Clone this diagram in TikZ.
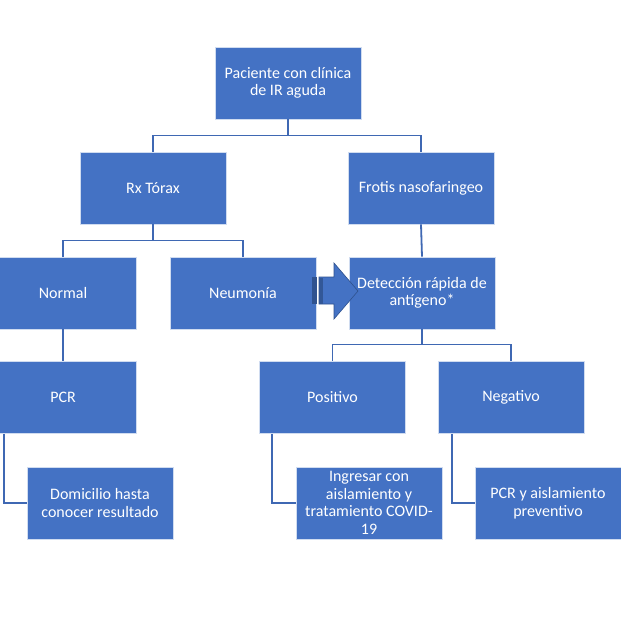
\documentclass[tikz,border=0pt]{standalone}
\usepackage{fontspec}
\setmainfont{Carlito}
\definecolor{boxblue}{HTML}{4472C4}
\definecolor{linkblue}{HTML}{3F68B3}
\definecolor{darkblue}{HTML}{2F528F}
\begin{document}
\begin{tikzpicture}[x=1pt,y=-1pt,
  box/.style={draw=white!75!boxblue, line width=0.8pt, fill=boxblue, text=white,
    minimum width=146pt, minimum height=72pt, inner sep=1pt, align=center,
    font=\fontsize{16}{17.5}\selectfont},
  link/.style={draw=linkblue, line width=1.8pt}]
\useasboundingbox (0,0) rectangle (621,621);
\fill[white] (0,0) rectangle (621,621);

\node[box] (top) at (288,83) {Paciente con clínica\\de IR aguda};
\node[box] (rx) at (153,188) {Rx Tórax};
\node[box] (fro) at (421,188) {Frotis nasofaringeo};
\node[box] (nor) at (63,293) {Normal};
\node[box] (neu) at (243,293) {Neumonía};
\node[box] (det) at (422,293) {Detección rápida de\\antígeno*};
\node[box] (pcr) at (63,397.5) {PCR};
\node[box] (pos) at (332.5,397.5) {Positivo};
\node[box] (neg) at (511,397.5) {Negativo};
\node[box] (dom) at (100,503) {Domicilio hasta\\conocer resultado};
\node[box] (ing) at (369,503) {Ingresar con\\aislamiento y\\tratamiento COVID-\\19};
\node[box] (pcra) at (548,503) {PCR y aislamiento\\preventivo};

% tree connectors
\draw[link] (top.south) -- ++(0,16) -| (rx.north);
\draw[link] (top.south) -- ++(0,16) -| (fro.north);
\draw[link] (rx.south) -- ++(0,16) -| (nor.north);
\draw[link] (rx.south) -- ++(0,16) -| (neu.north);
\draw[link] (fro.south) -- (det.north);
\draw[link] (det.south) -- ++(0,15) -| (pos.north);
\draw[link] (det.south) -- ++(0,15) -| (neg.north);
\draw[link] (nor.south) -- (pcr.north);
\draw[link] ([xshift=14pt]pcr.south west) |- (dom.west);
\draw[link] ([xshift=13pt]pos.south west) |- (ing.west);
\draw[link] ([xshift=14pt]neg.south west) |- (pcra.west);

% striped block arrow
\coordinate (ar) at (312,291);
\fill[darkblue] (312,277) rectangle (317,304);
\draw[draw=darkblue, line width=0.6pt, fill=boxblue]
  (319,277) -- (334,277) -- (334,263) -- (358,291) -- (334,319) -- (334,304) -- (319,304) -- cycle;
\fill[darkblue!85!boxblue] (319,277.5) rectangle (323,303.5);
\end{tikzpicture}
\end{document}
